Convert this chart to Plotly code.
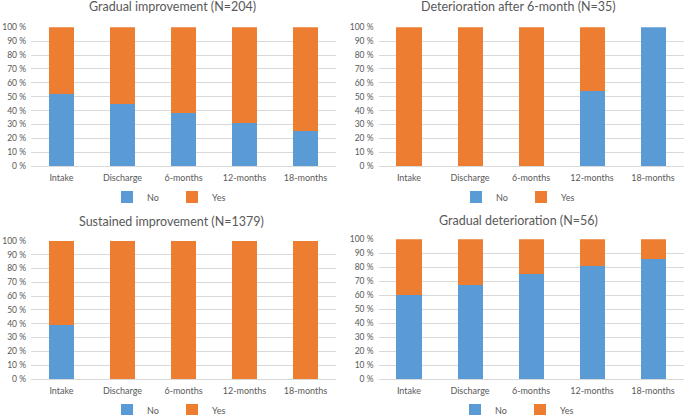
import plotly.graph_objects as go

categories = ["Intake", "Discharge", "6-months", "12-months", "18-months"]

titles = [
    "Gradual improvement (N=204)",
    "Deterioration after 6-month (N=35)",
    "Sustained improvement (N=1379)",
    "Gradual deterioration (N=56)",
]

gradual_improvement_no = [52, 45, 38, 31, 25]
gradual_improvement_yes = [48, 55, 62, 69, 75]

deterioration_after_6m_no = [0, 0, 0, 54, 100]
deterioration_after_6m_yes = [100, 100, 100, 46, 0]

sustained_improvement_no = [39, 0, 0, 0, 0]
sustained_improvement_yes = [61, 100, 100, 100, 100]

gradual_deterioration_no = [60, 67, 75, 81, 86]
gradual_deterioration_yes = [40, 33, 25, 19, 14]

tick_values = [0, 10, 20, 30, 40, 50, 60, 70, 80, 90, 100]
tick_labels = [f"{v} %" for v in tick_values]

series = [
    (gradual_improvement_no, gradual_improvement_yes),
    (deterioration_after_6m_no, deterioration_after_6m_yes),
    (sustained_improvement_no, sustained_improvement_yes),
    (gradual_deterioration_no, gradual_deterioration_yes),
]

W, H = 685, 415
BLUE = "#5B9BD5"
ORANGE = "#ED7D31"
GREY = "#595959"
FONT = "Lato"

# panel pixel geometry: (x0, x1, y_top(100%), y_bottom(0%), title_x, title_y, legend_x, legend_y)
panels = [
    (31, 336, 27.3, 166, 172, 7, 172, 197),
    (378.5, 683.5, 27.3, 166, 518, 7, 521, 197),
    (31, 336, 240.7, 379, 171, 221, 172, 410),
    (378.5, 683.5, 239.3, 379, 518, 220, 520, 410),
]

fig = go.Figure()
layout = dict(
    width=W, height=H,
    margin=dict(l=0, r=0, t=0, b=0, autoexpand=False),
    paper_bgcolor="white", plot_bgcolor="white",
    barmode="stack", bargap=0.59,
    font=dict(family=FONT, color=GREY, size=9),
    annotations=[],
)

for i, ((no, yes), (x0, x1, yt, yb, tx, ty, lx, ly)) in enumerate(zip(series, panels)):
    n = i + 1
    xa = "x" if n == 1 else f"x{n}"
    ya = "y" if n == 1 else f"y{n}"
    lg = "legend" if n == 1 else f"legend{n}"
    fig.add_trace(go.Bar(x=categories, y=no, name="No", marker_color=BLUE,
                         xaxis=xa, yaxis=ya, legend=lg, marker_line_width=0))
    fig.add_trace(go.Bar(x=categories, y=yes, name="Yes", marker_color=ORANGE,
                         xaxis=xa, yaxis=ya, legend=lg, marker_line_width=0))
    xkey = "xaxis" if n == 1 else f"xaxis{n}"
    ykey = "yaxis" if n == 1 else f"yaxis{n}"
    layout[xkey] = dict(domain=[x0 / W, x1 / W], anchor=ya, showgrid=False,
                        showline=True, linecolor="#D9D9D9", linewidth=1,
                        ticks="", ticklabelstandoff=3,
                        tickfont=dict(size=9, color=GREY), fixedrange=True)
    layout[ykey] = dict(domain=[1 - yb / H, 1 - yt / H], anchor=xa, range=[0, 100],
                        tickvals=tick_values, ticktext=tick_labels, showgrid=True,
                        gridcolor="#D9D9D9", gridwidth=1, zeroline=False,
                        showline=False, ticks="", ticklabelstandoff=4,
                        tickfont=dict(size=8.5, color=GREY), fixedrange=True)
    layout[lg] = dict(orientation="h", x=lx / W, xanchor="center",
                      y=1 - ly / H, yanchor="middle", font=dict(size=9, color=GREY),
                      traceorder="normal", itemwidth=30, entrywidth=20,
                      entrywidthmode="pixels", bgcolor="rgba(0,0,0,0)")
    layout["annotations"].append(dict(text=titles[i], x=tx / W, y=1 - ty / H,
                                      xref="paper", yref="paper", showarrow=False,
                                      xanchor="center", yanchor="middle",
                                      font=dict(size=12.5, color=GREY, family=FONT)))

fig.update_layout(**layout)
fig.write_html("out.html", config={"displayModeBar": False},
               post_script="document.body.style.margin='0';document.body.style.overflow='hidden';")
